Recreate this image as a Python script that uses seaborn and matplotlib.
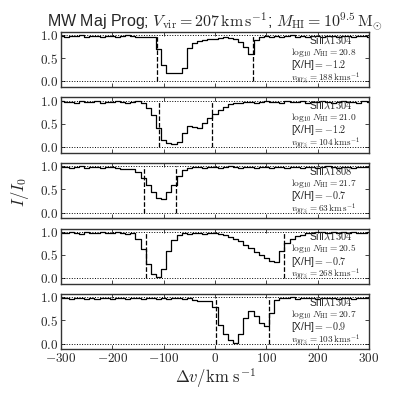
import matplotlib
matplotlib.use("Agg")
import matplotlib.pyplot as plt
import seaborn as sns
import numpy as np
import pandas as pd

# velocity grid (km/s), one bin every 10 km/s
velocity = list(range(-300, 301, 10))

# normalised flux, one list per panel
flux_1 = [0.98, 0.97, 0.99, 0.98, 1.00, 0.97, 0.98, 0.99, 0.96, 0.98,
          0.99, 0.97, 0.98, 1.00, 0.99, 0.97, 0.95, 0.97,
          0.96, 0.70, 0.35, 0.19, 0.18, 0.19, 0.30, 0.72, 0.84, 0.88,
          0.89, 0.91, 0.92, 0.94, 0.95, 0.93, 0.92, 0.85, 0.74, 0.60,
          0.90, 0.97,
          0.98, 0.96, 0.99, 0.97, 0.98, 1.00, 0.97, 0.98, 0.96, 0.99,
          0.98, 0.97, 0.99, 0.98, 0.96, 0.98, 0.99, 0.97, 0.98, 0.99, 0.97]
flux_2 = [0.99, 0.97, 0.98, 0.96, 0.99, 0.98, 0.97, 0.99, 0.96, 0.98,
          0.97, 0.99, 0.98, 0.96, 0.98, 0.99,
          0.95, 0.85, 0.70, 0.42, 0.15, 0.08, 0.07, 0.10, 0.30, 0.45,
          0.43, 0.41, 0.52, 0.63, 0.72, 0.80, 0.87, 0.92, 0.94, 0.96,
          0.97, 0.98, 0.96, 0.98, 0.99, 0.97, 0.98, 0.96, 0.99, 0.97,
          0.98, 0.99, 0.96, 0.98, 0.97, 0.99, 0.98, 0.96, 0.98, 0.99,
          0.97, 0.98, 0.96, 0.99, 0.98]
flux_3 = [0.98, 0.99, 0.97, 0.98, 1.00, 0.97, 0.99, 0.98, 0.97, 0.99, 0.98,
          0.96, 0.95, 0.95, 0.94, 0.88, 0.74, 0.60, 0.44, 0.32, 0.30,
          0.45, 0.60, 0.78, 0.92, 0.97,
          0.98, 0.99, 0.97, 0.98, 0.99, 0.97, 0.98, 1.00, 0.98, 0.97,
          0.99, 0.98, 0.97, 0.99, 0.98, 0.96, 0.98, 0.99, 0.97, 0.98,
          0.99, 0.97, 0.98, 0.99, 0.97, 0.98, 1.00, 0.98, 0.97, 0.99,
          0.98, 0.97, 0.99, 0.98, 0.99]
flux_4 = [0.98, 0.97, 0.99, 0.98, 0.96, 0.99, 0.98, 0.97, 0.99, 0.98,
          0.97, 0.99, 0.98, 0.96, 0.97,
          0.85, 0.62, 0.30, 0.08, 0.02, 0.20, 0.58, 0.82, 0.94, 0.97,
          0.96, 0.97, 0.98, 0.96, 0.97, 0.98,
          0.95, 0.92, 0.89, 0.85, 0.79, 0.72, 0.65, 0.57, 0.50, 0.44,
          0.36, 0.34, 0.58, 0.76, 0.84, 0.90, 0.94, 0.97,
          0.98, 0.99, 1.00, 0.98, 0.99, 0.97, 1.00, 0.98, 0.99, 0.97, 0.98, 0.99]
flux_5 = [0.98, 0.99, 0.97, 0.98, 0.99, 0.97, 0.98, 0.96, 0.99, 0.98,
          0.97, 0.99, 0.98, 0.96, 0.98, 0.99, 0.97, 0.98, 0.99, 0.97,
          0.98, 0.96, 0.99, 0.98, 0.97, 0.99,
          0.94, 0.93, 0.93, 0.92,
          0.80, 0.40, 0.20, 0.08, 0.02, 0.20, 0.55, 0.70, 0.60, 0.45,
          0.38, 0.65, 0.95,
          0.98, 0.99, 1.00, 0.97, 0.99, 0.98, 0.99, 0.97, 0.98, 0.99,
          0.98, 0.96, 0.98, 0.99, 0.97, 0.98, 0.99, 0.98]
fluxes = [flux_1, flux_2, flux_3, flux_4, flux_5]

# v90 interval edges (dashed lines)
v90_lo = [-114, -110, -139, -134, 2]
v90_hi = [74, -6, -76, 134, 106]

# panel labels
lines_ion = ["SiII$\\lambda1304$", "SiII$\\lambda1304$", "SiII$\\lambda1808$",
             "SiII$\\lambda1304$", "SiII$\\lambda1304$"]
log_nhi = ["20.8", "21.0", "21.7", "20.5", "20.7"]
metal = ["-1.2", "-1.2", "-0.7", "-0.7", "-0.9"]
v90 = ["188", "104", "63", "268", "103"]

xticks = [-300, -200, -100, 0, 100, 200, 300]
xticklabels = ["$-300$", "$-200$", "$-100$", "$0$", "$100$", "$200$", "$300$"]
yticks = [0.0, 0.5, 1.0]
yticklabels = ["$0.0$", "$0.5$", "$1.0$"]

sns.set_style("ticks")
plt.rcParams['font.family'] = ['Liberation Sans', 'DejaVu Sans']
plt.rcParams['mathtext.fontset'] = 'cm'

fig, axes = plt.subplots(5, 1, figsize=(3.99, 3.99), dpi=100, sharex=True)
fig.subplots_adjust(left=0.153, right=0.925, top=0.92, bottom=0.125, hspace=0.19)

for i, ax in enumerate(axes):
    df = pd.DataFrame({"v": velocity, "flux": fluxes[i]})
    sns.lineplot(data=df, x="v", y="flux", ax=ax, color="black", lw=0.9,
                 drawstyle="steps-mid")
    ax.axhline(1.0, color="black", ls=":", lw=0.7)
    ax.axhline(0.0, color="black", ls=":", lw=0.7)
    ax.vlines([v90_lo[i], v90_hi[i]], 0, 1, colors="black", linestyles="dashed", lw=0.9)
    ax.set_xlim(-300, 300)
    ax.set_ylim(-0.12, 1.07)
    ax.set_xticks(xticks)
    ax.set_yticks(yticks)
    ax.set_yticklabels(yticklabels, fontsize=9.5)
    ax.tick_params(direction="in", top=True, right=True, length=3, width=0.6, pad=2)
    ax.set_xlabel("")
    ax.set_ylabel("")
    for s in ax.spines.values():
        s.set_linewidth(1.0)
        s.set_color("#333333")

    ax.text(0.875, 0.85, lines_ion[i], transform=ax.transAxes, ha="center",
            va="center", fontsize=7.5)
    ax.text(0.745, 0.63, "$\\log_{10}N_{\\rm HI}=" + log_nhi[i] + "$",
            transform=ax.transAxes, ha="left", va="center", fontsize=6.8)
    ax.text(0.748, 0.40, "[X/H]$=" + metal[i] + "$", transform=ax.transAxes,
            ha="left", va="center", fontsize=7.2)
    ax.text(0.748, 0.16, "$v_{90\\%}=" + v90[i] + "\\,{\\rm km\\,s^{-1}}$",
            transform=ax.transAxes, ha="left", va="center", fontsize=6.6)

axes[-1].set_xticklabels(xticklabels, fontsize=9.5)
axes[0].set_title("MW Maj Prog; $V_{\\rm vir}=207\\,{\\rm km\\,s^{-1}}$; "
                  "$M_{\\rm HI}=10^{9.5}\\,{\\rm M_{\\odot}}$", fontsize=11.5, pad=2)
fig.text(0.05, 0.52, "$I/I_0$", rotation=90, ha="center", va="center", fontsize=12)
fig.text(0.539, 0.053, "$\\Delta v/\\mathrm{km\\ s^{-1}}$", ha="center",
         va="center", fontsize=12)

fig.savefig("out.png", dpi=100)
